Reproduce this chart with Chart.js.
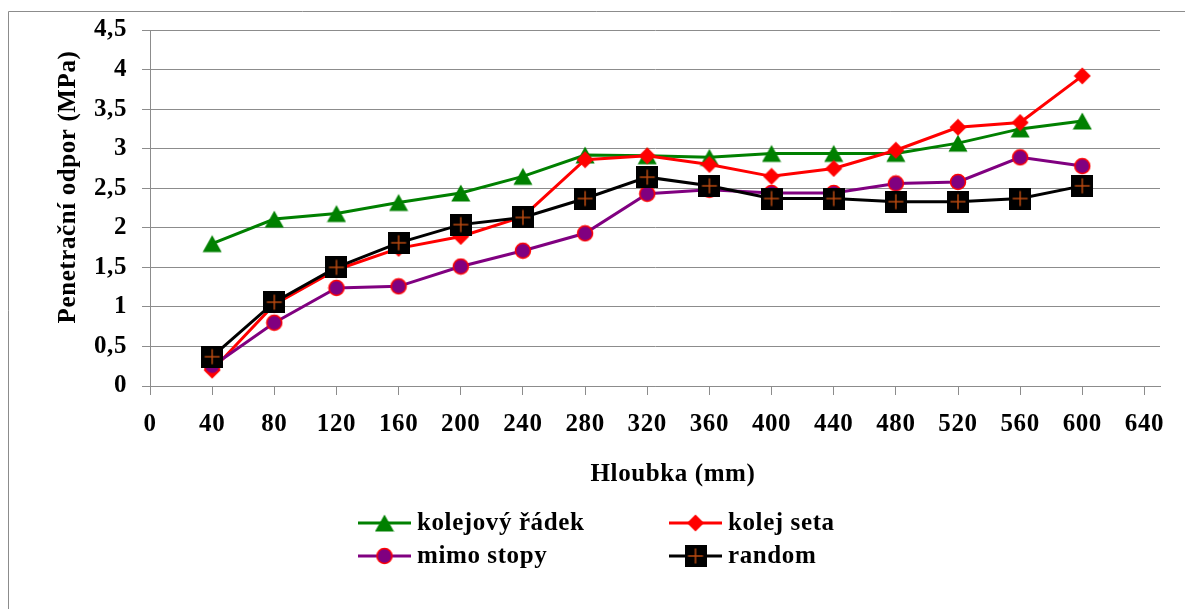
<!DOCTYPE html>
<html>
<head>
<meta charset="utf-8">
<script src="https://cdn.jsdelivr.net/npm/chart.js@4.4.1/dist/chart.umd.min.js"></script>
<style>
  html, body { margin: 0; padding: 0; background: #ffffff; }
  #wrap { width: 1185px; height: 609px; }
</style>
</head>
<body>
<div id="wrap"><canvas id="c" width="1185" height="609"></canvas></div>
<script>
// ---- data ----
const depths = [40, 80, 120, 160, 200, 240, 280, 320, 360, 400, 440, 480, 520, 560, 600];
const kolejovyRadek = [1.80, 2.11, 2.18, 2.32, 2.44, 2.65, 2.92, 2.91, 2.89, 2.94, 2.94, 2.94, 3.07, 3.25, 3.35];
const kolejSeta     = [0.20, 1.03, 1.47, 1.74, 1.89, 2.14, 2.86, 2.91, 2.80, 2.65, 2.75, 2.98, 3.27, 3.33, 3.92];
const mimoStopy     = [0.25, 0.80, 1.24, 1.26, 1.51, 1.71, 1.93, 2.43, 2.48, 2.44, 2.44, 2.56, 2.58, 2.89, 2.78];
const random        = [0.37, 1.06, 1.50, 1.81, 2.04, 2.13, 2.37, 2.64, 2.53, 2.37, 2.37, 2.33, 2.33, 2.37, 2.53];
const seriesNames = ['kolejový řádek', 'kolej seta', 'mimo stopy', 'random'];
const xTicks = [0, 40, 80, 120, 160, 200, 240, 280, 320, 360, 400, 440, 480, 520, 560, 600, 640];
const yTicks = [0, 0.5, 1, 1.5, 2, 2.5, 3, 3.5, 4, 4.5];
const xTitle = 'Hloubka (mm)';
const yTitle = 'Penetrační odpor (MPa)';

const FONT_FAMILY = "'Liberation Serif', 'Times New Roman', serif";
const FONT_SIZE = 25;
const LETTER_SPACING = '0.6px';
const GRID = '#8c8c8c';

// ---- marker images ----
function mk(w, h, fn) {
  const c = document.createElement('canvas');
  c.width = w; c.height = h;
  fn(c.getContext('2d'));
  return c;
}
const triImg = mk(20, 20, g => {
  g.fillStyle = '#008000';
  g.beginPath(); g.moveTo(10, 1.5); g.lineTo(19.5, 18.5); g.lineTo(0.5, 18.5); g.closePath(); g.fill();
});
const diaImg = mk(18, 18, g => {
  g.fillStyle = '#ff0000';
  g.beginPath(); g.moveTo(9, 0.5); g.lineTo(17.5, 9); g.lineTo(9, 17.5); g.lineTo(0.5, 9); g.closePath(); g.fill();
});
const cirImg = mk(18, 18, g => {
  g.fillStyle = '#800080'; g.strokeStyle = '#ff0000'; g.lineWidth = 1.5;
  g.beginPath(); g.arc(9, 9, 7.5, 0, Math.PI * 2); g.fill(); g.stroke();
});
const sqImg = mk(22, 22, g => {
  g.fillStyle = '#000000'; g.fillRect(0, 0, 22, 22);
  g.strokeStyle = '#b84a10'; g.lineWidth = 1.5;
  g.beginPath(); g.moveTo(11, 3.5); g.lineTo(11, 18.5); g.moveTo(3.5, 11); g.lineTo(18.5, 11); g.stroke();
});

const seriesColors = ['#008000', '#ff0000', '#800080', '#000000'];
const seriesImgs = [triImg, diaImg, cirImg, sqImg];
const seriesData = [kolejovyRadek, kolejSeta, mimoStopy, random];

function pts(arr) { return depths.map((d, i) => ({ x: d, y: arr[i] })); }

const datasets = seriesData.map((arr, i) => ({
  label: seriesNames[i],
  data: pts(arr),
  borderColor: seriesColors[i],
  backgroundColor: seriesColors[i],
  borderWidth: 3,
  pointStyle: seriesImgs[i],
  pointRadius: 10,
  pointHoverRadius: 10,
  tension: 0,
  order: 4 - i
}));

function font(size) { return { family: FONT_FAMILY, size: size, weight: 'bold' }; }

const spacingPlugin = {
  id: 'spacing',
  beforeUpdate(chart) { chart.ctx.letterSpacing = LETTER_SPACING; },
  beforeDraw(chart) {
    const ctx = chart.ctx;
    ctx.letterSpacing = LETTER_SPACING;
    ctx.save();
    ctx.strokeStyle = GRID;
    ctx.lineWidth = 1;
    ctx.beginPath();
    ctx.moveTo(8.5, 609); ctx.lineTo(8.5, 11.5); ctx.lineTo(1185, 11.5);
    ctx.stroke();
    ctx.restore();
  }
};

const decorPlugin = {
  id: 'decor',
  afterDraw(chart) {
    const ctx = chart.ctx;
    ctx.save();
    ctx.letterSpacing = LETTER_SPACING;
    ctx.fillStyle = '#000000';
    ctx.font = "bold " + FONT_SIZE + "px " + FONT_FAMILY;
    // x title
    ctx.textAlign = 'center';
    ctx.textBaseline = 'alphabetic';
    ctx.fillText(xTitle, 673, 481);
    // y title
    ctx.save();
    ctx.translate(75, 187);
    ctx.rotate(-Math.PI / 2);
    ctx.textAlign = 'center';
    ctx.textBaseline = 'alphabetic';
    ctx.fillText(yTitle, 0, 0);
    ctx.restore();
    // legend
    const items = [
      { x: 358, y: 523 }, { x: 669, y: 523 },
      { x: 358, y: 556 }, { x: 669, y: 556 }
    ];
    items.forEach((it, i) => {
      ctx.strokeStyle = seriesColors[i];
      ctx.lineWidth = 3;
      ctx.beginPath();
      ctx.moveTo(it.x, it.y); ctx.lineTo(it.x + 53, it.y);
      ctx.stroke();
      const img = seriesImgs[i];
      ctx.drawImage(img, it.x + 26.5 - img.width / 2, it.y - img.height / 2);
      ctx.fillStyle = '#000000';
      ctx.textAlign = 'left';
      ctx.textBaseline = 'middle';
      ctx.fillText(seriesNames[i], it.x + 59, it.y + 1);
    });
    ctx.restore();
  }
};

new Chart(document.getElementById('c'), {
  type: 'line',
  data: { datasets: datasets },
  options: {
    responsive: false,
    animation: false,
    devicePixelRatio: 1,
    layout: { padding: { left: 0, right: 25, top: 28, bottom: 0 } },
    plugins: {
      legend: { display: false },
      tooltip: { enabled: false },
      title: { display: false }
    },
    scales: {
      x: {
        type: 'linear',
        min: 0,
        max: 650,
        afterBuildTicks(scale) { scale.ticks = xTicks.map(v => ({ value: v })); },
        afterFit(scale) { scale.height = 223; },
        grid: { drawOnChartArea: false, tickLength: 9, tickColor: GRID, color: GRID },
        border: { display: true, color: GRID, width: 1 },
        ticks: { color: '#000000', font: font(FONT_SIZE), padding: 15, maxRotation: 0, autoSkip: false,
                 callback: v => String(v) }
      },
      y: {
        type: 'linear',
        min: 0,
        max: 4.5,
        afterBuildTicks(scale) { scale.ticks = yTicks.map(v => ({ value: v })); },
        afterFit(scale) { scale.width = 150; },
        grid: { color: GRID, tickLength: 8, tickColor: GRID },
        border: { display: true, color: GRID, width: 1 },
        ticks: { color: '#000000', font: font(FONT_SIZE), padding: 15,
                 callback: v => String(v).replace('.', ',') }
      }
    }
  },
  plugins: [spacingPlugin, decorPlugin]
});
</script>
</body>
</html>
